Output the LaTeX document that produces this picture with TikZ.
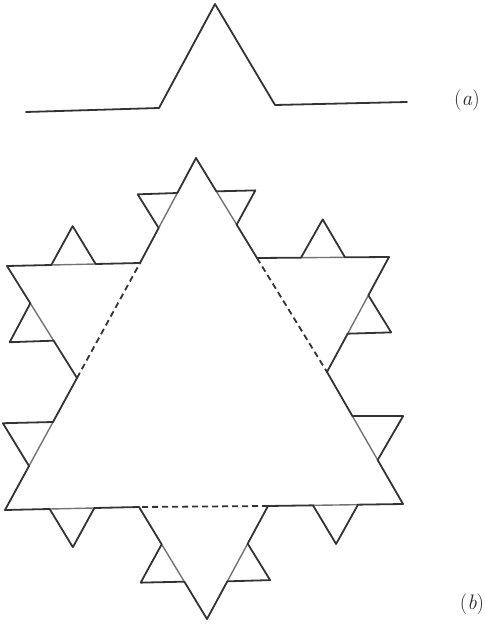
\documentclass[tikz,border=0pt]{standalone}
\usepackage{tikz}
\usetikzlibrary{calc}

\begin{document}
\begin{tikzpicture}[x=1pt,y=-1pt,line width=1.8pt,line cap=round,line join=round,
  curve/.style={draw=black!80},
  base/.style={dashed,dash pattern=on 6pt off 4pt,line cap=butt,draw=black!80},
  faint/.style={line width=1.4pt,draw=black!55},
  lbl/.style={font=\fontsize{21}{24}\selectfont,inner sep=0pt,text=black!85}]
  \useasboundingbox (0,0) rectangle (484,628);
  % (a) one step of the construction
  \coordinate (s0) at (26,112);
  \coordinate (s1) at (159,108);
  \coordinate (s2) at (215,4);
  \coordinate (s3) at (275,105);
  \coordinate (s4) at (407,102);
  \draw[curve] (s0) -- (s1) -- (s2) -- (s3) -- (s4);
  \node[lbl] (la) at (467,100) {(\textit{a})};
  % (b) star outline, clockwise from the top
  \coordinate (t) at (196,158);
  \coordinate (a) at (257,258);
  \coordinate (ur) at (389,257);
  \coordinate (b) at (327,372);
  \coordinate (br) at (403,504);
  \coordinate (c) at (268,506);
  \coordinate (bt) at (207,619);
  \coordinate (d) at (139,507);
  \coordinate (bl) at (5,510);
  \coordinate (e) at (77,378);
  \coordinate (ul) at (7,266);
  \coordinate (f) at (140,263);
  \draw[base] (a) -- (b);
  \draw[base] (c) -- (d);
  \draw[base] (e) -- (f);
  \foreach \p/\q in {t/a,a/ur,ur/b,b/br,br/c,c/bt,bt/d,d/bl,bl/e,e/ul,ul/f,f/t} {
    \path ($(\p)!1/3!(\q)$) coordinate (m1)
          ($(\p)!2/3!(\q)$) coordinate (m2)
          ($(m1)!1!60:(m2)$) coordinate (m3);
    \draw[faint] (m1) -- (m2);
    \draw[curve] (\p) -- (m1) -- (m3) -- (m2) -- (\q);
  }
  \node[lbl] (lb) at (472,604) {(\textit{b})};
\end{tikzpicture}
\end{document}
